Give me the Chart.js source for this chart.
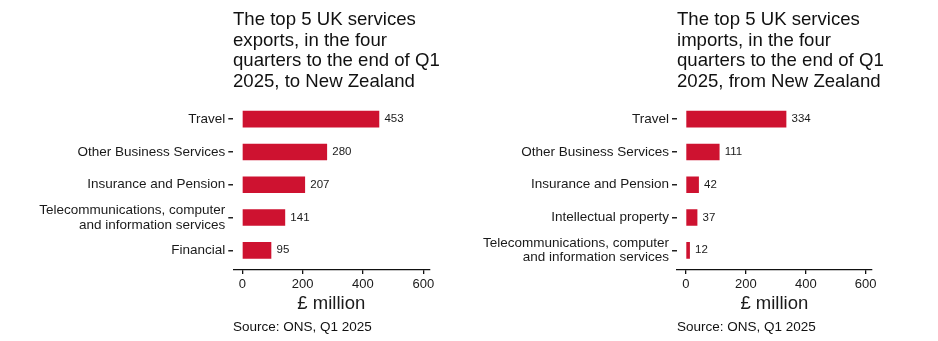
<!DOCTYPE html>
<html>
<head>
<meta charset="utf-8">
<script src="https://cdn.jsdelivr.net/npm/chart.js@4"></script>
<style>
  body { margin: 0; background: #fff; }
  #wrap { position: relative; width: 938px; height: 341px; font-family: "Liberation Sans", Arial, sans-serif; color: #111; }
  canvas { position: absolute; top: 0; }
  .title { position: absolute; top: 9.3px; font-size: 18.6px; line-height: 20.4px; white-space: nowrap; }
  .source { position: absolute; top: 318.7px; font-size: 13.5px; line-height: 15px; white-space: nowrap; }
</style>
</head>
<body>
<div id="wrap">
  <canvas id="exportsChart" width="469" height="341" style="left:0"></canvas>
  <canvas id="importsChart" width="469" height="341" style="left:469px"></canvas>
  <div class="title" style="left:233px">The top 5 UK services<br>exports, in the four<br>quarters to the end of Q1<br>2025, to New Zealand</div>
  <div class="title" style="left:677px">The top 5 UK services<br>imports, in the four<br>quarters to the end of Q1<br>2025, from New Zealand</div>
  <div class="source" style="left:233px">Source: ONS, Q1 2025</div>
  <div class="source" style="left:677px">Source: ONS, Q1 2025</div>
</div>
<script>
// Datos (£ millones)
const exportCategories = [
  "Travel",
  "Other Business Services",
  "Insurance and Pension",
  ["Telecommunications, computer", "and information services"],
  "Financial",
];
const exportValues = [453, 280, 207, 141, 95];

const importCategories = [
  "Travel",
  "Other Business Services",
  "Insurance and Pension",
  "Intellectual property",
  ["Telecommunications, computer", "and information services"],
];
const importValues = [334, 111, 42, 37, 12];

const xTicks = [0, 200, 400, 600];
const xAxisTitle = "£ million";

const fontFamily = '"Liberation Sans", Arial, sans-serif';
const barColor = "#CE1230";
const textColor = "#1a1a1a";

// Etiquetas de valor al final de cada barra
const valueLabels = {
  id: "valueLabels",
  afterDatasetsDraw(chart) {
    const ctx = chart.ctx;
    const meta = chart.getDatasetMeta(0);
    ctx.save();
    ctx.font = "11.5px " + fontFamily;
    ctx.fillStyle = textColor;
    ctx.textBaseline = "middle";
    ctx.textAlign = "left";
    meta.data.forEach(function (bar, i) {
      ctx.fillText(chart.data.datasets[0].data[i].x, bar.x + 5.5, bar.y);
    });
    ctx.restore();
  },
};

function makeChart(id, categories, values, axisWidth, rightPad) {
  const ctx = document.getElementById(id).getContext("2d");
  return new Chart(ctx, {
    type: "bar",
    data: {
      datasets: [
        {
          data: values.map((v, i) => ({ x: v, y: i })),
          backgroundColor: barColor,
          borderWidth: 0,
          barThickness: 16,
        },
      ],
    },
    plugins: [valueLabels],
    options: {
      indexAxis: "y",
      responsive: false,
      animation: false,
      events: [],
      layout: { padding: { left: 0, right: rightPad, top: 99.5, bottom: 23 } },
      plugins: { legend: { display: false }, tooltip: { enabled: false } },
      scales: {
        y: {
          type: "linear",
          reverse: true,
          offset: false,
          min: -0.6,
          max: 4.6,
          afterBuildTicks: (scale) => {
            scale.ticks = categories.map((c, i) => ({ value: i }));
          },
          afterFit: (scale) => {
            scale.width = axisWidth;
          },
          ticks: {
            callback: (value) => categories[value],
            color: textColor,
            padding: 3,
            font: { family: fontFamily, size: 13.5, lineHeight: 1.1 },
          },
          grid: {
            display: true,
            offset: false,
            drawOnChartArea: false,
            tickLength: 5,
            lineWidth: 1.5,
            color: "#222",
          },
          border: { display: false },
        },
        x: {
          type: "linear",
          min: -30,
          max: 620,
          afterBuildTicks: (scale) => {
            scale.ticks = xTicks.map((v) => ({ value: v }));
          },
          afterFit: (scale) => {
            scale.height = 48;
          },
          ticks: {
            color: textColor,
            padding: 3,
            maxRotation: 0,
            font: { family: fontFamily, size: 13 },
          },
          grid: {
            display: true,
            drawOnChartArea: false,
            tickLength: 4,
            lineWidth: 1.3,
            color: "#111",
          },
          border: { display: true, color: "#111", width: 1.3 },
          title: {
            display: true,
            text: xAxisTitle,
            color: textColor,
            padding: { top: 0, bottom: 2.5 },
            font: { family: fontFamily, size: 18.5 },
          },
        },
      },
    },
  });
}

makeChart("exportsChart", exportCategories, exportValues, 233.3, 39.7);
makeChart("importsChart", importCategories, importValues, 208, 66.3);
</script>
</body>
</html>
